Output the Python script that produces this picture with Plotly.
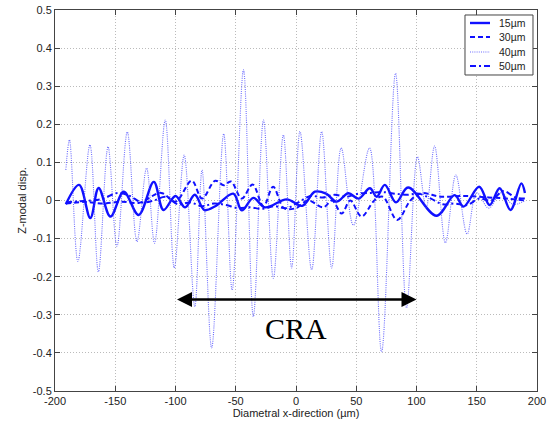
import plotly.graph_objects as go

# ---- data ----
x15 = [-191, -180, -170.7, -163.8, -154, -143, -130.6, -118, -110, -100, -92, -84, -76, -67, -52, -45,
       -35.4, -25.7, -7.7, 5.2, 15.7, 25, 33.7, 43.4, 52, 61.3, 67, 73.7, 83, 93, 116.6, 131.7, 139,
       152, 160.7, 169, 178, 187, 190]
y15 = [-0.01, 0.041, -0.046, 0.033, -0.042, 0.023, -0.038, 0.049, -0.025, 0.012, -0.018, 0.015, -0.025,
       -0.015, 0.018, -0.026, 0.007, -0.018, 0.003, -0.014, 0.023, 0.018, -0.003, 0.019, 0.005, 0.032,
       0.01, 0.041, -0.005, 0.034, -0.04, 0.014, -0.016, 0.036, -0.012, 0.032, -0.025, 0.045, 0.02]

x30 = [-191, -175, -160, -145, -130, -112, -100, -86.5, -78, -67, -60, -54, -45, -36, -27, -19, -10, 0,
       10, 22.6, 30, 37.9, 45, 54.4, 65, 72, 84, 95, 104, 120, 140, 160, 175, 190]
y30 = [-0.008, -0.004, -0.008, -0.003, -0.006, 0.02, -0.003, 0.052, 0.005, 0.052, 0.04, 0.05, 0.005,
       0.042, -0.015, 0.036, -0.02, -0.02, 0.0, -0.018, 0.0, -0.034, 0.0, -0.042, 0.0, 0.01, -0.051, 0.0,
       0.019, 0.01, 0.012, 0.008, 0.005, 0.0]

x40 = [-191, -188, -181, -171, -164, -156, -148.6, -140, -132, -124, -117.4, -108.5, -101, -92.8, -84,
       -78, -70, -60, -53, -43.6, -35.4, -27, -18.8, -10.5, -3.6, 3.3, 13, 21.3, 29.6, 37.5, 47.6, 61,
       71, 82.6, 91.7, 100.8, 108, 115, 124, 132.6, 142, 150, 160, 170, 180, 190]
y40 = [0.08, 0.159, -0.16, 0.146, -0.187, 0.141, -0.121, 0.18, -0.108, 0.085, -0.112, 0.211, -0.177,
       0.119, -0.279, 0.08, -0.387, 0.175, -0.235, 0.343, -0.305, 0.211, -0.204, 0.172, -0.177, 0.181,
       -0.182, 0.181, -0.177, 0.138, -0.065, 0.138, -0.397, 0.334, -0.282, 0.115, -0.02, 0.143, -0.111,
       0.067, -0.088, 0.02, -0.02, 0.02, -0.01, 0.0]

x50 = [-191, -180, -170, -160, -148, -138, -128, -118, -108, -98, -88, -78, -68, -58, -48, -38, -28,
       -18, -8, 2, 12, 22, 32, 42, 52, 62, 72, 82, 92, 102, 112, 122, 132, 142, 152, 162, 172, 182, 190]
y50 = [-0.005, -0.002, 0.0, 0.005, 0.02, 0.012, -0.005, 0.0, 0.01, -0.01, -0.005, -0.015, -0.008,
       -0.012, -0.02, -0.018, -0.022, -0.015, -0.02, -0.005, 0.012, 0.008, 0.015, 0.01, 0.018, 0.02,
       0.022, 0.018, 0.015, 0.018, 0.005, -0.01, -0.008, -0.012, 0.005, 0.0, 0.025, 0.008, 0.005]

series_names = ["15\u00b5m", "30\u00b5m", "40\u00b5m", "50\u00b5m"]

xticks = [-200, -150, -100, -50, 0, 50, 100, 150, 200]
xticktext = ["-200", "-150", "-100", "-50", "0", "50", "100", "150", "200"]
yticks = [-0.5, -0.4, -0.3, -0.2, -0.1, 0, 0.1, 0.2, 0.3, 0.4, 0.5]
yticktext = ["-0.5", "-0.4", "-0.3", "-0.2", "-0.1", "0", "0.1", "0.2", "0.3", "0.4", "0.5"]

arrow_x = [-100, 100]
arrow_y = -0.26
label_text = "CRA"
label_pos = (0, -0.335)

FONT = "Liberation Sans, Arial, sans-serif"
BLUE = "#1010ff"
styles = [
    dict(color=BLUE, width=2.4, dash="solid"),
    dict(color=BLUE, width=2, dash="5px,3px"),
    dict(color="rgba(60,60,255,0.75)", width=1.1, dash="1px,1.2px"),
    dict(color=BLUE, width=2, dash="6px,3px,2px,3px"),
]

fig = go.Figure()
for xs, ys, nm, st in zip([x15, x30, x40, x50], [y15, y30, y40, y50], series_names, styles):
    fig.add_trace(go.Scatter(x=xs, y=ys, mode="lines", name=nm, line_shape="spline",
                             line=st, showlegend=False))

# manual legend box (compact, like the original)
fig.add_shape(type="rect", xref="paper", yref="paper", x0=0.8506, x1=0.9917, y0=0.8294, y1=0.9869,
              line=dict(color="#444", width=1), fillcolor="white", layer="above")
leg_y = [0.9659, 0.9291, 0.8898, 0.8530]
for ly, nm, st in zip(leg_y, series_names, styles):
    fig.add_shape(type="line", xref="paper", yref="paper", x0=0.861, x1=0.9025, y0=ly, y1=ly,
                  line=st, layer="above")
    fig.add_annotation(x=0.917, y=ly, xref="paper", yref="paper", text=nm, showarrow=False,
                       xanchor="left", yanchor="middle",
                       font=dict(family=FONT, size=10.5, color="#222"))

fig.add_annotation(x=arrow_x[1], y=arrow_y, ax=arrow_x[0], ay=arrow_y, xref="x", yref="y",
                   axref="x", ayref="y", text="", showarrow=True, arrowside="end+start",
                   arrowhead=2, startarrowhead=2, arrowsize=1.2, startarrowsize=1.2,
                   arrowwidth=2.5, arrowcolor="black")
fig.add_annotation(x=label_pos[0], y=label_pos[1], xref="x", yref="y", text=label_text,
                   showarrow=False, font=dict(family="Liberation Serif, Times New Roman, serif",
                                              size=30, color="black"))

axis_common = dict(showline=True, linecolor="#444", linewidth=1, mirror="ticks", ticks="inside",
                   ticklen=5, tickcolor="#444", showgrid=True, gridcolor="#bbbbbb", griddash="1px,2px",
                   gridwidth=1, zeroline=False, automargin=False,
                   tickfont=dict(family=FONT, size=11, color="#222"))

fig.update_xaxes(range=[-200, 200], tickvals=xticks, ticktext=xticktext,
                 title=dict(text="Diametral x-direction (\u00b5m)", standoff=2,
                            font=dict(family=FONT, size=11, color="#222")), **axis_common)
fig.update_yaxes(range=[-0.5, 0.5], tickvals=yticks, ticktext=yticktext,
                 title=dict(text="Z-modal disp.", standoff=3,
                            font=dict(family=FONT, size=11, color="#222")), **axis_common)

fig.update_layout(
    width=555, height=425, autosize=False,
    margin=dict(l=55, r=18, t=10, b=34),
    paper_bgcolor="white", plot_bgcolor="white",
    showlegend=False,
)

fig.write_html("out.html", config={"displayModeBar": False},
               post_script="document.body.style.margin='0px';")
